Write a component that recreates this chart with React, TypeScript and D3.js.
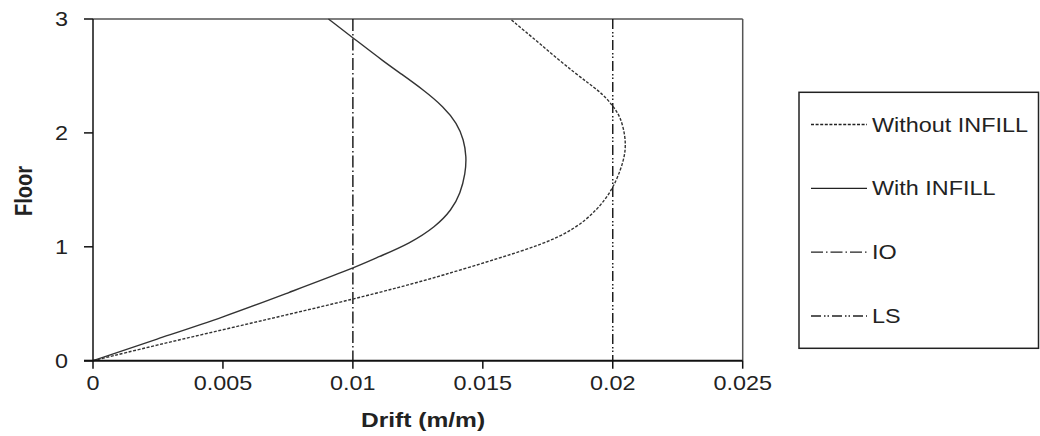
import React from "react";
import * as d3 from "d3";

const W = 1040;
const H = 436;

// floor levels and drift readings (m/m) for each case
const withFloors = [0, 0.19, 0.38, 0.6, 0.81, 0.913, 1.031, 1.176, 1.323, 1.47, 1.645, 1.79, 1.938, 2.084, 2.23, 2.377, 2.523, 2.625, 2.8, 3];
const withDrift = [0, 0.00245, 0.005, 0.00755, 0.01, 0.011, 0.0122, 0.01318, 0.0138, 0.01414, 0.01433, 0.01437, 0.01427, 0.01401, 0.01349, 0.01272, 0.01183, 0.0112, 0.0102, 0.00906];

const withoutFloors = [0, 0.137, 0.272, 0.405, 0.54, 0.645, 0.745, 0.905, 1.016, 1.147, 1.323, 1.499, 1.674, 1.821, 1.967, 2.142, 2.245, 2.362, 2.52, 2.79, 3];
const withoutDrift = [0, 0.00245, 0.005, 0.0075, 0.01, 0.0118, 0.0134, 0.0157, 0.01722, 0.0185, 0.0194, 0.01998, 0.0203, 0.02049, 0.02049, 0.0203, 0.01998, 0.01953, 0.01855, 0.01716, 0.01606];

const limitNames = ["IO", "LS"];
const limitValues = [0.01, 0.02];

const xTicks = [0, 0.005, 0.01, 0.015, 0.02, 0.025];
const xTickLabels = ["0", "0.005", "0.01", "0.015", "0.02", "0.025"];
const yTicks = [0, 1, 2, 3];

const legendLabels = ["Without INFILL", "With INFILL", "IO", "LS"];

const font = "'Liberation Sans', Arial, sans-serif";
const SX = 1.17; // the picture is a bit stretched horizontally

const x = d3.scaleLinear().domain([0, 0.025]).range([93, 742.7]);
const y = d3.scaleLinear().domain([0, 3]).range([360.7, 19]);

// b-spline evens out the reading noise in the points
const lineFn = d3
  .line<[number, number]>()
  .x(d => x(d[1]))
  .y(d => y(d[0]))
  .curve(d3.curveBasis);

const dashFor: { [k: string]: string } = {
  "Without INFILL": "3,1.6",
  "With INFILL": "none",
  IO: "12,3,1.5,3",
  LS: "10,3,1.5,2,1.5,3"
};

function SText(props: {
  x: number;
  y: number;
  anchor?: string;
  size: number;
  bold?: boolean;
  children: React.ReactNode;
}) {
  return (
    <text
      transform={`translate(${props.x},${props.y}) scale(${SX},1)`}
      textAnchor={props.anchor || "start"}
      fontFamily={font}
      fontSize={props.size}
      fontWeight={props.bold ? "bold" : "normal"}
      fill="#222"
    >
      {props.children}
    </text>
  );
}

export default function App() {
  const withPts = withFloors.map((f, i) => [f, withDrift[i]] as [number, number]);
  const withoutPts = withoutFloors.map((f, i) => [f, withoutDrift[i]] as [number, number]);
  const [x0, x1] = x.range();
  const [y0, y1] = y.range();

  const legX = 799;
  const legTop = 92.3;
  const legRowY = d3.scaleLinear().domain([0, 3]).range([124.5, 316]);

  return (
    <svg
      width={W}
      height={H}
      style={{ position: "absolute", left: 0, top: 0, background: "#fff" }}
    >
      {/* frame */}
      <line x1={x0} x2={x1} y1={y1} y2={y1} stroke="#555" strokeWidth={1.5} />
      <line x1={x1} x2={x1} y1={y1} y2={y0} stroke="#555" strokeWidth={1.5} />

      {/* limit lines */}
      {limitValues.map((v, i) => (
        <line
          key={limitNames[i]}
          x1={x(v)}
          x2={x(v)}
          y1={y1}
          y2={y0}
          stroke="#111"
          strokeWidth={1.4}
          strokeDasharray={dashFor[limitNames[i]]}
        />
      ))}

      {/* curves */}
      <path
        d={lineFn(withoutPts) || ""}
        fill="none"
        stroke="#333"
        strokeWidth={1.4}
        strokeDasharray={dashFor["Without INFILL"]}
      />
      <path d={lineFn(withPts) || ""} fill="none" stroke="#333" strokeWidth={1.4} />

      {/* axes */}
      <line x1={x0} x2={x0} y1={y1} y2={y0} stroke="#111" strokeWidth={1.5} />
      <line x1={x0 - 9} x2={x1} y1={y0} y2={y0} stroke="#111" strokeWidth={2} />
      {xTicks.map((t, i) => (
        <g key={t}>
          <line x1={x(t)} x2={x(t)} y1={y0} y2={y0 + 8} stroke="#111" strokeWidth={1.5} />
          <SText x={x(t)} y={390} anchor="middle" size={20}>
            {xTickLabels[i]}
          </SText>
        </g>
      ))}
      {yTicks.map(t => (
        <g key={t}>
          <line x1={x0 - 9} x2={x0} y1={y(t)} y2={y(t)} stroke="#111" strokeWidth={1.5} />
          <SText x={68} y={y(t) + 7} anchor="end" size={20}>
            {t}
          </SText>
        </g>
      ))}

      <SText x={423} y={427} anchor="middle" size={21} bold>
        Drift (m/m)
      </SText>
      <text
        transform={`translate(32,191) scale(${SX},1) rotate(-90)`}
        textAnchor="middle"
        fontFamily={font}
        fontSize={20}
        fontWeight="bold"
        fill="#222"
      >
        Floor
      </text>

      {/* legend */}
      <rect
        x={legX}
        y={legTop}
        width={W - 1.5 - legX}
        height={348.3 - legTop}
        fill="#fff"
        stroke="#222"
        strokeWidth={1.5}
      />
      {legendLabels.map((name, i) => (
        <g key={name}>
          <line
            x1={811}
            x2={867}
            y1={legRowY(i)}
            y2={legRowY(i)}
            stroke="#222"
            strokeWidth={1.3}
            strokeDasharray={dashFor[name]}
          />
          <SText x={872} y={legRowY(i) + 7} size={20}>
            {name}
          </SText>
        </g>
      ))}
    </svg>
  );
}
